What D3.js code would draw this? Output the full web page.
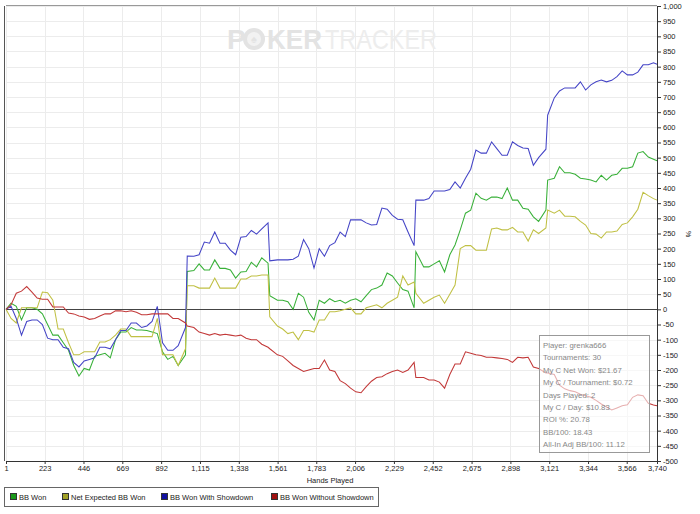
<!DOCTYPE html>
<html lang="en">
<head>
<meta charset="UTF-8">
<title>BB Won graph</title>
<script src="https://d3js.org/d3.v7.min.js"></script>
<style>
  body { margin: 0; background: #fff; }
  svg text { font-family: "Liberation Sans", Arial, sans-serif; }
</style>
</head>
<body>
<svg id="chart" width="700" height="514"></svg>
<script>
// hands played (x samples)
const hands = [1, 30, 60, 90, 120, 150, 180, 210, 240, 270, 300, 330, 360, 390, 420, 450, 480, 510, 540, 570,
  600, 630, 660, 690, 720, 750, 780, 810, 840, 870, 900, 930, 960, 990, 1032, 1042, 1080, 1110, 1140, 1170,
  1200, 1230, 1260, 1290, 1320, 1350, 1380, 1410, 1440, 1470, 1506, 1516, 1560, 1590, 1620, 1650, 1680, 1710, 1740, 1770,
  1800, 1830, 1860, 1890, 1920, 1950, 1980, 2010, 2040, 2070, 2100, 2130, 2160, 2190, 2220, 2250, 2280, 2310, 2345, 2355,
  2400, 2430, 2460, 2490, 2520, 2550, 2580, 2610, 2640, 2670, 2700, 2730, 2760, 2790, 2820, 2850, 2880, 2910, 2940, 2970,
  3000, 3030, 3060, 3102, 3112, 3150, 3180, 3210, 3240, 3270, 3300, 3330, 3360, 3390, 3420, 3450, 3480, 3510, 3540, 3570,
  3600, 3630, 3660, 3690, 3720, 3740];

const bbWon = [0, 20, 10, -35, 5, 5, 0, -15, -50, -85, -85, -110, -135, -185, -220, -195, -200, -155, -150, -145,
  -160, -100, -75, -75, -60, -68, -68, -70, -75, -80, -140, -165, -155, -185, -150, 125, 128, 150, 130, 130,
  163, 135, 135, 130, 103, 123, 125, 155, 140, 170, 152, 45, 30, 30, 25, 0, 53, 40, -10, -35,
  30, 20, 35, 25, 30, 20, 30, 35, 25, 45, 65, 70, 80, 120, 110, 87, 65, 60, 5, 190,
  140, 140, 150, 160, 123, 180, 212, 262, 317, 327, 383, 366, 360, 370, 370, 365, 400, 360, 360, 333,
  330, 305, 290, 327, 426, 432, 470, 450, 450, 445, 432, 430, 426, 420, 442, 426, 442, 445, 465, 465,
  470, 515, 520, 502, 495, 490];

const netExpected = [0, -30, -45, 5, 5, 5, 5, 57, 55, 30, -65, -65, -110, -150, -150, -140, -140, -140, -108, -108,
  -100, -85, -65, -65, -90, -90, -90, -90, -90, -30, -150, -150, -150, -185, -130, 78, 78, 70, 70, 70,
  103, 70, 70, 70, 70, 100, 100, 110, 110, 113, 113, -25, -55, -65, -80, -75, -100, -70, -70, -75,
  -35, -35, -8, -8, -5, 0, 5, -15, -15, 5, 10, 15, 5, 20, 30, 40, 110, 80, 90, 53,
  20, 30, 40, 47, 20, 50, 80, 200, 210, 210, 195, 195, 195, 265, 268, 262, 262, 270, 255, 255,
  225, 262, 250, 268, 327, 317, 327, 307, 307, 305, 290, 278, 250, 248, 235, 255, 255, 258, 280, 285,
  305, 330, 386, 375, 365, 360];

const wonShowdown = [0, 10, -30, -85, -40, -35, -35, -50, -95, -100, -100, -125, -130, -175, -190, -170, -165, -160, -125, -125,
  -130, -100, -70, -70, -45, -45, -60, -55, -40, 10, -110, -135, -135, -120, -60, 176, 175, 180, 222, 218,
  255, 218, 218, 195, 180, 238, 240, 260, 248, 265, 285, 160, 163, 163, 163, 165, 175, 230, 200, 136,
  200, 175, 210, 220, 255, 240, 295, 295, 295, 285, 278, 280, 334, 330, 310, 297, 295, 255, 210, 360,
  360, 365, 390, 390, 390, 395, 420, 400, 432, 462, 525, 515, 515, 552, 530, 508, 508, 552, 540, 532,
  530, 475, 500, 528, 640, 697, 720, 730, 730, 730, 750, 723, 740, 750, 756, 750, 755, 767, 786, 773,
  773, 782, 806, 806, 813, 808];

const wonNoShowdown = [0, 15, 53, 60, 75, 57, 37, 33, 33, 8, 8, 8, -12, -15, -22, -25, -33, -30, -22, -15,
  -15, -5, -5, -8, -5, -10, -18, -18, -15, -15, -15, -15, -30, -30, -45, -55, -60, -75, -80, -85,
  -80, -85, -82, -85, -88, -85, -95, -100, -100, -115, -125, -130, -150, -155, -170, -185, -195, -205, -200, -195,
  -195, -167, -200, -205, -235, -245, -260, -272, -275, -255, -237, -225, -222, -212, -205, -200, -208, -200, -175, -225,
  -225, -233, -233, -240, -260, -215, -180, -180, -140, -145, -150, -152, -158, -158, -160, -162, -165, -175, -158, -160,
  -158, -190, -195, -210, -210, -215, -250, -262, -268, -272, -280, -285, -290, -300, -312, -322, -332, -325, -318, -315,
  -290, -282, -285, -310, -315, -318];

const xTicks = [1, 223, 446, 669, 892, 1115, 1338, 1561, 1783, 2006, 2229, 2452, 2675, 2898, 3121, 3344, 3566, 3740];
const yTicks = [-500, -450, -400, -350, -300, -250, -200, -150, -100, -50, 0, 50, 100, 150, 200, 250, 300, 350,
  400, 450, 500, 550, 600, 650, 700, 750, 800, 850, 900, 950, 1000];

const seriesNames = ["BB Won", "Net Expected BB Won", "BB Won With Showdown", "BB Won Without Showdown"];
const lineColors = ["#38b038", "#c0c044", "#4444c6", "#c23838"];
const keyColors = ["#1a991a", "#a3a328", "#1010a0", "#a01010"];
const infoLines = ["Player: grenka666", "Tournaments: 30", "My C Net Won: $21.67", "My C / Tournament: $0.72",
  "Days Played: 2", "My C / Day: $10.83", "ROI %: 20.78", "BB/100: 18.43", "All-In Adj BB/100: 11.12"];

const svg = d3.select("#chart");
const plotL = 6, plotR = 657, plotT = 6, plotB = 461;

const x = d3.scaleLinear().domain([1, 3740]).range([plotL, plotR]);
const y = d3.scaleLinear().domain([-500, 1000]).range([plotB, plotT]);

// grid
svg.append("g").selectAll("line").data(yTicks).join("line")
  .attr("x1", plotL).attr("x2", plotR)
  .attr("y1", d => Math.round(y(d)) + 0.5).attr("y2", d => Math.round(y(d)) + 0.5)
  .attr("stroke", "#ececec");
svg.append("g").selectAll("line").data(xTicks).join("line")
  .attr("x1", d => Math.round(x(d)) + 0.5).attr("x2", d => Math.round(x(d)) + 0.5)
  .attr("y1", plotT).attr("y2", plotB)
  .attr("stroke", "#ececec");

// watermark
const wm = svg.append("g").attr("fill", "#e3e3e3");
wm.append("text").attr("x", 227).attr("y", 49).attr("font-size", 28).attr("font-weight", "bold").text("P");
wm.append("circle").attr("cx", 254).attr("cy", 39).attr("r", 11);
wm.append("circle").attr("cx", 254).attr("cy", 39).attr("r", 7).attr("fill", "#f2f2f2");
wm.append("text").attr("x", 254).attr("y", 43).attr("text-anchor", "middle").attr("font-size", 11)
  .attr("fill", "#e3e3e3").text("\u2660");
wm.append("text").attr("x", 267).attr("y", 49).attr("font-size", 28).attr("font-weight", "bold")
  .attr("textLength", 55).attr("lengthAdjust", "spacingAndGlyphs").text("KER");
wm.append("text").attr("x", 325).attr("y", 49).attr("font-size", 28).attr("fill", "#ededed")
  .attr("textLength", 112).attr("lengthAdjust", "spacingAndGlyphs").text("TRACKER");

// zero line and frame
svg.append("line").attr("x1", plotL).attr("x2", plotR).attr("y1", Math.round(y(0)) + 0.5).attr("y2", Math.round(y(0)) + 0.5)
  .attr("stroke", "#444");
svg.append("line").attr("x1", plotL).attr("x2", plotR).attr("y1", plotT - 0.5).attr("y2", plotT - 0.5)
  .attr("stroke", "#999");
svg.append("line").attr("x1", plotL - 1.5).attr("x2", plotL - 1.5).attr("y1", plotT).attr("y2", plotB)
  .attr("stroke", "#555");

// lines
const line = d3.line().x((d, i) => x(hands[i])).y(d => y(d));
[bbWon, netExpected, wonShowdown, wonNoShowdown].forEach((s, k) => {
  svg.append("path").datum(s)
    .attr("fill", "none")
    .attr("stroke", lineColors[k])
    .attr("stroke-width", 1.05)
    .attr("d", line);
});

// axes
const fmt = d => (d < 0 ? "-" : "") + d3.format(",")(Math.abs(d));
const yAxis = svg.append("g")
  .attr("transform", `translate(${plotR},0)`)
  .call(d3.axisRight(y).tickValues(yTicks).tickSize(4).tickSizeOuter(0).tickPadding(2).tickFormat(fmt));
const xAxis = svg.append("g")
  .attr("transform", `translate(0,${plotB})`)
  .call(d3.axisBottom(x).tickValues(xTicks).tickSize(3).tickSizeOuter(0).tickPadding(2).tickFormat(fmt));
[yAxis, xAxis].forEach(a => {
  a.selectAll("path, line").attr("stroke", "#333");
  a.selectAll("text").attr("font-size", 7.5).attr("fill", "#222");
});

svg.append("text").attr("x", 330).attr("y", 483).attr("text-anchor", "middle")
  .attr("font-size", 7.5).attr("fill", "#222").text("Hands Played");
svg.append("text").attr("transform", "translate(686,234) rotate(90)").attr("text-anchor", "middle")
  .attr("font-size", 7).attr("fill", "#222").text("%");

// info box
const info = svg.append("g");
info.append("rect").attr("x", 539.5).attr("y", 335.5).attr("width", 110).attr("height", 117)
  .attr("fill", "#fff").attr("fill-opacity", 0.6).attr("stroke", "#999");
info.selectAll("text").data(infoLines).join("text")
  .attr("x", 543).attr("y", (d, i) => 348 + i * 12.4)
  .attr("font-size", 7.8).attr("fill", "#888").text(d => d);

// legend
const legend = svg.append("g");
legend.append("rect").attr("x", 4.5).attr("y", 487.5).attr("width", 374).attr("height", 19)
  .attr("fill", "#fff").attr("stroke", "#666");
const keyX = [10, 62, 161, 271];
seriesNames.forEach((name, k) => {
  legend.append("rect").attr("x", keyX[k] + 0.5).attr("y", 493.5).attr("width", 6).attr("height", 6)
    .attr("fill", keyColors[k]).attr("stroke", "#333");
  legend.append("text").attr("x", keyX[k] + 9).attr("y", 500).attr("font-size", 7.5)
    .attr("fill", "#222").text(name);
});
</script>
</body>
</html>
